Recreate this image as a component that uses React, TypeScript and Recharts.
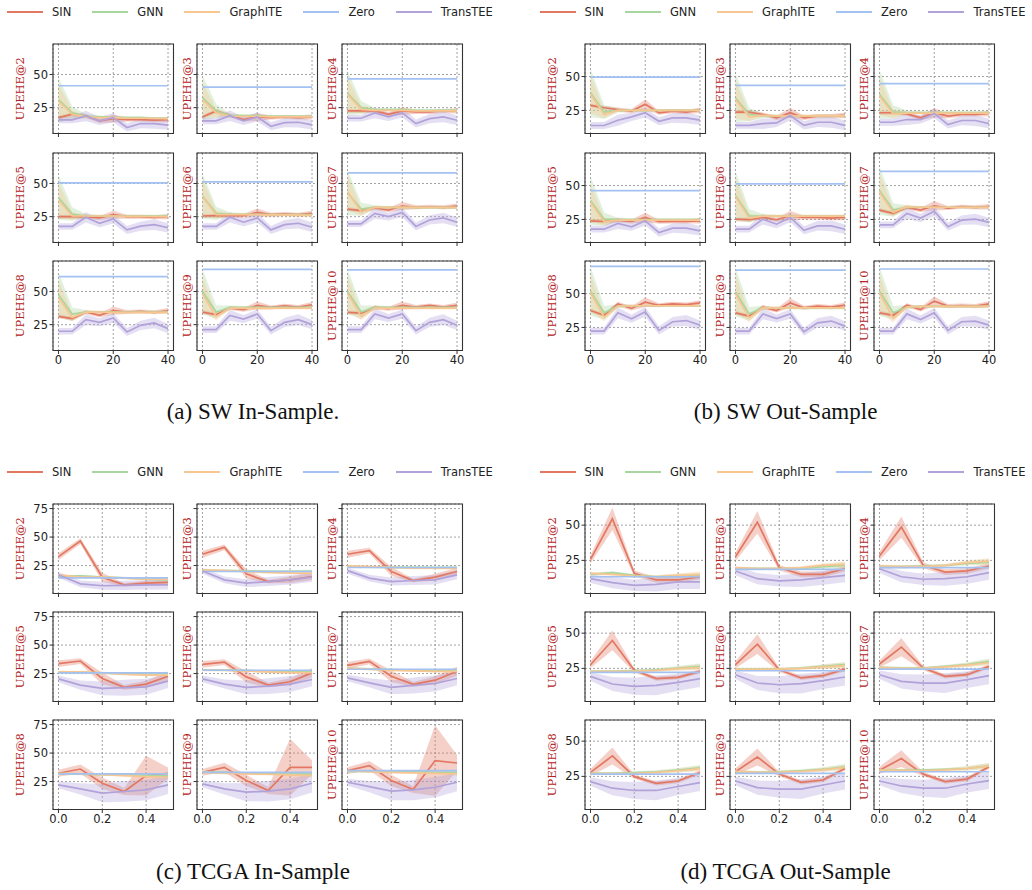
import React from "react";
import {
  ComposedChart,
  Line,
  Area,
  XAxis,
  YAxis,
  CartesianGrid,
  ReferenceArea,
  Legend,
} from "recharts";

// x grids
const SW_X = [0, 5, 10, 15, 20, 25, 30, 35, 40];
const TCGA_X = [0, 0.1, 0.2, 0.3, 0.4, 0.5];

const METRICS = [
  "UPEHE@2", "UPEHE@3", "UPEHE@4",
  "UPEHE@5", "UPEHE@6", "UPEHE@7",
  "UPEHE@8", "UPEHE@9", "UPEHE@10",
];
const SERIES = ["SIN", "GNN", "GraphITE", "Zero", "TransTEE"];

const COLORS: Record<string, string> = {
  SIN: "#e27862",
  GNN: "#a9d69f",
  GraphITE: "#f7c691",
  Zero: "#a3c2f2",
  TransTEE: "#b1a2d9",
};

// ---------- (a) SW In-Sample ----------
const swInSin = [
  [17.5, 20, 18.75, 15, 16.75, 16, 16, 15.5, 16],
  [18, 22.5, 19, 16, 18, 17.5, 18, 17.5, 18],
  [22.5, 22.5, 22.5, 20, 22.5, 21.75, 21.75, 22.5, 22.5],
  [25, 25, 25, 24, 26.5, 25, 25, 24.5, 25],
  [25.5, 25.7, 25.7, 25.7, 28.2, 26.5, 27, 26.5, 27.5],
  [30.7, 29.5, 31.5, 30, 33, 32, 32.4, 32, 33],
  [31.25, 29.5, 34.5, 32, 35.5, 34.5, 35, 34.3, 35.5],
  [34.5, 32.5, 37.5, 36.25, 39.5, 38, 39.25, 38.25, 40],
  [34.25, 33.75, 38, 37, 39.5, 38.25, 39.5, 38.25, 39.5],
];
const swInGnn = [
  [31, 21, 18.5, 18, 17.5, 17.5, 17.5, 17, 17],
  [32.5, 22.5, 19, 19, 19, 18.5, 18.5, 18.5, 18.5],
  [36, 25, 23.5, 23.5, 23.5, 23, 23, 23, 23],
  [39.4, 27, 25.5, 25.5, 25.5, 25.5, 25.5, 25.5, 25.5],
  [40.6, 27.5, 26.8, 26.8, 26.8, 26.5, 26.5, 26.5, 26.5],
  [43, 30.7, 32, 32, 32, 32, 32, 32, 32],
  [47.5, 33, 34.5, 34.5, 34.5, 34.5, 34.5, 34.5, 34.5],
  [50, 34.5, 38, 38, 38, 38, 38, 38, 38],
  [50, 34.5, 38, 38, 38, 38, 38, 38, 38],
];
const swInGraphite = [
  [30, 20, 18, 17.5, 17.5, 17, 17, 17, 16.5],
  [31, 21, 18.5, 18.5, 18.5, 18, 18, 18, 18],
  [35, 23.75, 23, 23, 23, 22.5, 22.5, 22.5, 22.5],
  [37.4, 25.5, 25.5, 25.5, 25.5, 25.2, 25.2, 25, 25],
  [40, 26.5, 26.5, 26.5, 26.5, 26.3, 26.3, 26.2, 26],
  [43.8, 28.7, 32, 32, 32, 32, 32, 32, 31.8],
  [45.5, 30.5, 34.5, 34.5, 34.3, 34.3, 34.3, 34.3, 34.3],
  [48, 31.25, 37.5, 37.5, 37.5, 37.5, 37.5, 37.5, 37.5],
  [48.75, 31.25, 37.5, 37.5, 37.5, 37.5, 37.5, 37.5, 37.5],
];
const swInZero = [41.5, 40.5, 46.75, 50.5, 51.2, 58, 61.25, 66.75, 66.25];
const swInTrans = [
  [15.75, 15.75, 18.75, 15, 17.5, 10, 13, 13, 11.75],
  [15, 15, 19, 15, 18, 11, 13.75, 14, 12],
  [17, 17, 21, 18, 21, 13, 16.75, 18, 15.5],
  [17.6, 17.6, 24.5, 20, 23.3, 15, 17.8, 19, 16.6],
  [17.6, 17.6, 24.5, 20.8, 24, 15, 19, 20, 17],
  [19.6, 19.6, 27.5, 25, 28.2, 17.6, 22.5, 24, 20.8],
  [20, 20, 28.75, 26.75, 30, 19.5, 24.5, 26.25, 22],
  [21.25, 21.25, 32, 29.25, 33, 20.5, 26.75, 28.75, 25],
  [21.25, 21.25, 33, 30, 33, 20.5, 26.75, 28.75, 24.5],
];
const swInSinErr = [1.5, 1.5, 1.5, 1.5, 3, 1.5, 1.5, 1.5, 2];
const swInGnnErr = [17, 5, 1.5, 1, 1, 1, 1, 1, 1];
const swInGraphiteErr = [13, 3, 1, 1, 1, 1, 1, 1, 1];
const swInTransErr = [2.5, 2.5, 4, 3, 3.5, 3, 3.5, 4, 3.5];

// ---------- (b) SW Out-Sample ----------
const swOutSin = [
  [28.7, 27, 25.7, 24.5, 29.5, 23.3, 24.5, 23.8, 25.2],
  [23.8, 23.8, 22, 19.5, 23.3, 19.5, 20.8, 20.8, 21.3],
  [23.3, 23.3, 22.5, 19.5, 23.3, 20.8, 22, 22, 22.8],
  [24, 23.5, 24.5, 23.5, 26.5, 23.3, 23.5, 23.5, 24],
  [25.2, 24.8, 26.5, 24.8, 27.7, 26.5, 26.5, 26, 26.5],
  [31.9, 29.5, 33.9, 31.9, 35.1, 33.4, 34.4, 33.9, 34.4],
  [37.5, 34, 42.4, 39, 43.6, 41.4, 42.4, 41.9, 43.1],
  [35.8, 33.3, 40, 37.5, 43.1, 39.5, 40.7, 40, 41.4],
  [35.8, 34, 41.4, 38.2, 44.4, 40.7, 41.2, 40.7, 42.4],
];
const swOutGnn = [
  [38, 23.8, 25, 25, 25, 25, 25, 25, 25],
  [34.4, 22, 21, 21, 21, 21, 21, 21, 21],
  [37, 23.8, 23.5, 23.5, 23.5, 23.5, 23.5, 23.5, 23.5],
  [38.9, 25.2, 24.8, 24.8, 24.8, 24.8, 24.8, 24.8, 24.8],
  [42.6, 27.7, 27.5, 27.5, 27.5, 27.5, 27.5, 27.5, 27.5],
  [46.3, 31.9, 33.9, 34, 34, 34, 34, 34, 34],
  [51.7, 35.8, 40.7, 41, 41, 41, 41, 41, 41],
  [51.2, 35, 39.5, 39.5, 39.5, 39.5, 39.5, 39.5, 39.5],
  [51.7, 35.8, 40, 40.5, 40.5, 40.5, 40.5, 40.5, 40.5],
];
const swOutGraphite = [
  [37, 22, 25, 25, 25, 25, 25, 25, 25],
  [33, 20.3, 21.3, 21, 21, 21, 21, 21, 21],
  [35.6, 22.5, 23, 23, 23, 23, 23, 23, 23],
  [37.6, 23.3, 24.5, 24.5, 24.5, 24.5, 24.5, 24.5, 24.5],
  [41.8, 26, 27.5, 27.5, 27.5, 27.5, 27.5, 27.5, 27.5],
  [45, 30.2, 34.4, 34, 34, 34, 34, 34, 34],
  [50.5, 32.6, 40.7, 41, 41, 41, 41, 41, 41],
  [49.8, 32.1, 39.5, 39.5, 39.5, 39.5, 39.5, 39.5, 39.5],
  [50.5, 31.6, 40, 40.5, 40.5, 40.5, 40.5, 40.5, 40.5],
];
const swOutZero = [49.5, 43.5, 44.8, 46.3, 51.2, 60.4, 70, 67.2, 68.1];
const swOutTrans = [
  [13.9, 13.9, 17.8, 20.3, 23.3, 17, 19.5, 19.5, 17.8],
  [14, 14, 15.3, 15.8, 21.3, 14, 16.3, 16.3, 14],
  [16.3, 16.3, 18.3, 18.3, 22.8, 14.6, 17.6, 17.6, 15.3],
  [17.8, 17.8, 22, 19.6, 24, 15.3, 18.6, 18.6, 16.6],
  [17.8, 17.8, 25.2, 21.5, 26.5, 17, 20.3, 20.3, 17.8],
  [21, 21, 29.5, 26, 31, 19.6, 24.5, 25.2, 22.8],
  [22.3, 22.3, 35.8, 31.4, 36.5, 22.8, 29.2, 30.1, 26.7],
  [22.3, 22.3, 35, 31.6, 35, 21.8, 28.4, 29.7, 26],
  [22.3, 22.3, 35, 30.9, 35.8, 22.8, 29.2, 29.7, 26.7],
];
const swOutSinErr = [1.5, 1.5, 1.5, 1.5, 3.5, 1.5, 1.5, 1.5, 2];
const swOutGnnErr = [18, 5, 1.5, 1, 1, 1, 1, 1, 1];
const swOutGraphiteErr = [14, 3, 1, 1, 1, 1, 1, 1, 1];
const swOutTransErr = [2.5, 2.5, 4, 3, 3.5, 3, 3.5, 4, 3.5];

// ---------- (c) TCGA In-Sample ----------
const tcgaInSin = [
  [32.8, 46.5, 14.8, 8.1, 9.6, 10.2],
  [34.9, 41, 17.7, 11, 12.5, 15.4],
  [34.9, 38.1, 19.8, 11.9, 14.8, 19.8],
  [33.7, 36, 20.7, 12.9, 15.8, 22.7],
  [33.1, 35.1, 22.1, 14.9, 17.8, 25.6],
  [32.2, 35.7, 22.7, 15.5, 19.2, 27],
  [32.3, 36, 23.5, 16.3, 30.2, 32.3],
  [33.1, 37.5, 25.9, 17.2, 37.5, 37.5],
  [34.6, 39, 25.9, 18, 43.3, 41.3],
];
const tcgaInGnn = [
  [15.4, 16, 14.8, 14.2, 13, 12.5],
  [20.6, 20.6, 20.3, 20, 20, 20],
  [23.8, 23.6, 23.5, 23.5, 23.3, 23.3],
  [26.3, 26, 25.5, 25, 25, 25],
  [28.2, 28, 27.5, 27, 27, 27],
  [29.5, 29, 28.5, 28, 28, 28],
  [32, 31.5, 31, 31, 30.5, 30],
  [33.5, 33, 32.5, 32, 32, 31.5],
  [34, 34, 33.5, 33.5, 33, 33],
];
const tcgaInGraphite = [
  [16.9, 14.8, 14.8, 14, 13, 13],
  [21.2, 20.6, 19.8, 18.9, 18.3, 18.3],
  [24.7, 24.1, 23.5, 22.7, 22.7, 22.7],
  [26.4, 26.4, 25.6, 24.4, 23.6, 23.6],
  [27.9, 27.9, 27.3, 26.4, 25.9, 25.9],
  [29.9, 28.8, 27.9, 27.3, 27, 27],
  [32.3, 31.7, 31.1, 30.2, 29.4, 28.8],
  [33.1, 32.3, 31.7, 31.4, 30.8, 30.2],
  [34.6, 33.7, 33.1, 32.7, 32.3, 31.7],
];
const tcgaInZero = [14.2, 19.8, 23.3, 25.6, 27.9, 28.8, 31.7, 33.1, 34.6];
const tcgaInTrans = [
  [16.9, 9, 7.3, 7.6, 8.1, 8.1],
  [20.3, 12.5, 9.6, 11, 12.5, 14.8],
  [20.6, 14, 11, 11.9, 12.5, 16.9],
  [20.4, 14.9, 12, 12.6, 13.4, 18.4],
  [20.4, 15.8, 12.9, 14, 15.8, 19.8],
  [21.2, 16.9, 12.9, 14.6, 16.3, 20.7],
  [22.1, 18.6, 14.8, 16.3, 17.7, 22.1],
  [23, 18.6, 15.7, 16.6, 18.6, 23.5],
  [24.4, 20.6, 16.6, 17.7, 20, 24.4],
];
const tcgaInSinErr = [
  [3, 2.5, 4, 1.5, 2, 2],
  [3, 2.5, 4, 1.5, 3, 3],
  [3, 2.5, 4, 1.5, 3, 3],
  [3, 2.5, 5, 2, 3, 4],
  [3, 2.5, 5, 2, 3, 4],
  [3, 2.5, 5, 2, 3.5, 4],
  [3, 4, 5, 3, 17.5, 5],
  [3, 4, 5, 3, 25, 6],
  [3, 4, 5, 3, 31, 7],
];
const tcgaInGnnErr = [1, 1, 1, 1, 1, 1.5];
const tcgaInGraphiteErr = [1, 1, 1, 1, 1, 1.5];
const tcgaInTransErr = [
  [2.5, 3, 3.5, 4, 4, 4],
  [2.5, 3, 3.5, 4, 4, 4],
  [2.5, 3, 3.5, 4, 4, 4],
  [3, 4, 6, 7, 7, 6],
  [3, 4, 6, 7, 7, 6],
  [3, 4, 6, 7, 7, 6],
  [3, 5, 8, 9, 9, 8],
  [3, 5, 8, 9, 9, 8],
  [3, 5, 8, 9, 9, 8],
];

// ---------- (d) TCGA Out-Sample ----------
const tcgaOutSin = [
  [25.7, 54.5, 15.8, 11.1, 11.1, 13.4],
  [27.6, 52.1, 19.8, 15.1, 15.1, 19.1],
  [28.1, 48.6, 21.5, 16.7, 17.5, 21],
  [27.6, 44.8, 23.6, 17.7, 18.6, 22.9],
  [27.6, 42.2, 24, 18.2, 19.8, 24.5],
  [28.1, 40.1, 25.2, 19.3, 20.5, 26.4],
  [27.8, 39.5, 24.8, 20.1, 21.7, 27.8],
  [28.3, 38.8, 26.6, 20.8, 22.4, 30.6],
  [29.4, 37.6, 26.6, 21.3, 23.1, 31.8],
];
const tcgaOutGnn = [
  [15.1, 16.3, 14.4, 13.4, 13.9, 13.9],
  [19.1, 19.1, 19.1, 19.1, 20.5, 21.5],
  [20.5, 20.5, 21, 21.5, 22.9, 23.8],
  [22.9, 22.9, 23.3, 24, 25.2, 26.4],
  [24.5, 24.5, 24.5, 25.2, 26.4, 27.6],
  [25.7, 25.2, 25.2, 26.4, 27.6, 30],
  [27.1, 27.1, 27.6, 28.3, 29.4, 31.1],
  [28.3, 27.8, 28.3, 29, 29.9, 31.8],
  [29.4, 29.4, 29.4, 29.9, 30.6, 32.5],
];
const tcgaOutGraphite = [
  [15.8, 15.1, 13.9, 13.4, 14.4, 15.1],
  [19.8, 19.1, 19.1, 19.8, 21.5, 22.2],
  [21, 20.5, 20.5, 21.5, 23.4, 24.5],
  [22.9, 22.9, 22.9, 23.6, 24.8, 25.7],
  [24.3, 24.3, 24.5, 25, 26, 27],
  [25.5, 25, 25, 26, 27.3, 29],
  [27, 27, 27, 27.8, 29, 30.5],
  [28.5, 27.8, 28, 28.6, 29.6, 31.3],
  [29.4, 29.2, 29, 29.6, 30.6, 32.3],
];
const tcgaOutZero = [13.4, 18.6, 19.8, 22.2, 23.3, 24.5, 26.6, 27.1, 28.3];
const tcgaOutTrans = [
  [12, 9.2, 7.3, 8, 9.7, 9.7],
  [17.5, 12, 10.4, 11.1, 12.7, 14.4],
  [19.1, 13.4, 11.6, 12, 13.4, 16.3],
  [19.3, 13.9, 12.3, 13, 15.1, 17.7],
  [20.5, 14.6, 13.4, 14.2, 16.3, 18.9],
  [20.5, 15.8, 14.6, 14.6, 17, 19.8],
  [21.3, 16.6, 15, 15, 17.8, 20.6],
  [21.7, 17, 15.9, 15.9, 18.9, 21.7],
  [21.7, 18.2, 16.6, 16.6, 19.6, 22],
];
const tcgaOutSinErr = [
  [3, 8, 2, 2, 2, 2],
  [3, 8, 2, 2, 2, 2],
  [3, 7.5, 2, 2, 2, 2],
  [2.5, 7, 1.5, 1.5, 1.5, 1.5],
  [2.5, 7, 1.5, 1.5, 1.5, 1.5],
  [2.5, 6.5, 1.5, 1.5, 1.5, 1.5],
  [2.5, 6, 1.5, 1.5, 1.5, 1.5],
  [2.5, 6, 1.5, 1.5, 1.5, 1.5],
  [2.5, 6, 1.5, 1.5, 1.5, 1.5],
];
const tcgaOutGnnErr = [1, 1, 1, 1, 1.5, 2];
const tcgaOutGraphiteErr = [1, 1, 1, 1, 1.5, 2];
const tcgaOutTransErr = [
  [3, 4, 4, 5, 5, 5],
  [3, 4, 4, 5, 5, 5],
  [3, 4, 4, 5, 5, 5],
  [3, 5, 6, 7, 6, 6],
  [3, 5, 6, 7, 6, 6],
  [3, 5, 6, 7, 6, 6],
  [3, 5, 6, 7, 6, 6],
  [3, 5, 6, 7, 6, 6],
  [3, 5, 6, 7, 6, 6],
];

type Band = number[] | number[][];
interface Panel {
  x: number[];
  sin: number[][];
  gnn: number[][];
  graphite: number[][];
  zero: number[];
  trans: number[][];
  sinErr: Band;
  gnnErr: Band;
  graphiteErr: Band;
  transErr: Band;
  xDomain: [number, number];
  xTicks: number[];
  yDomain: [number, number];
  yTicks: number[];
  ox: number;
  oy: number;
  caption: string;
  fmt: (v: number) => string;
}

const PANELS: Panel[] = [
  {
    x: SW_X, sin: swInSin, gnn: swInGnn, graphite: swInGraphite, zero: swInZero, trans: swInTrans,
    sinErr: swInSinErr, gnnErr: swInGnnErr, graphiteErr: swInGraphiteErr, transErr: swInTransErr,
    xDomain: [-2, 42], xTicks: [0, 20, 40], yDomain: [5.5, 73], yTicks: [25, 50],
    ox: 0, oy: 0, caption: "(a) SW In-Sample.", fmt: (v) => String(v),
  },
  {
    x: SW_X, sin: swOutSin, gnn: swOutGnn, graphite: swOutGraphite, zero: swOutZero, trans: swOutTrans,
    sinErr: swOutSinErr, gnnErr: swOutGnnErr, graphiteErr: swOutGraphiteErr, transErr: swOutTransErr,
    xDomain: [-2, 42], xTicks: [0, 20, 40], yDomain: [8, 74], yTicks: [25, 50],
    ox: 532.6, oy: 0, caption: "(b) SW Out-Sample", fmt: (v) => String(v),
  },
  {
    x: TCGA_X, sin: tcgaInSin, gnn: tcgaInGnn, graphite: tcgaInGraphite, zero: tcgaInZero, trans: tcgaInTrans,
    sinErr: tcgaInSinErr, gnnErr: tcgaInGnnErr, graphiteErr: tcgaInGraphiteErr, transErr: tcgaInTransErr,
    xDomain: [-0.025, 0.525], xTicks: [0, 0.2, 0.4], yDomain: [0.5, 79], yTicks: [25, 50, 75],
    ox: 0, oy: 459.5, caption: "(c) TCGA In-Sample", fmt: (v) => v.toFixed(1),
  },
  {
    x: TCGA_X, sin: tcgaOutSin, gnn: tcgaOutGnn, graphite: tcgaOutGraphite, zero: tcgaOutZero, trans: tcgaOutTrans,
    sinErr: tcgaOutSinErr, gnnErr: tcgaOutGnnErr, graphiteErr: tcgaOutGraphiteErr, transErr: tcgaOutTransErr,
    xDomain: [-0.025, 0.525], xTicks: [0, 0.2, 0.4], yDomain: [1.5, 65], yTicks: [25, 50],
    ox: 532.6, oy: 459.5, caption: "(d) TCGA Out-Sample", fmt: (v) => v.toFixed(1),
  },
];

// subplot geometry inside a panel
const PLOT_LEFT = [52.7, 197.2, 341.7];
const PLOT_TOP = [44, 152.5, 260.5];
const PW = 120.5;
const PH = 89.5;
const MT = 4;
const MR = 4;

const TICK_STYLE = { fontSize: 11.5, fill: "#222", fontFamily: "DejaVu Sans" };

const pick = (b: Band, i: number): number[] =>
  Array.isArray(b[0]) ? (b as number[][])[i] : (b as number[]);

function buildRows(p: Panel, i: number) {
  const se = pick(p.sinErr, i);
  const ge = pick(p.gnnErr, i);
  const ie = pick(p.graphiteErr, i);
  const te = pick(p.transErr, i);
  return p.x.map((x, j) => {
    const s = p.sin[i][j];
    const g = p.gnn[i][j];
    const gi = p.graphite[i][j];
    const t = p.trans[i][j];
    return {
      x,
      SIN: s,
      GNN: g,
      GraphITE: gi,
      Zero: p.zero[i],
      TransTEE: t,
      sinBand: [s - se[j], s + se[j]],
      gnnBand: [g - ge[j], g + ge[j]],
      graphiteBand: [gi - ie[j], gi + ie[j]],
      transBand: [t - te[j], t + te[j]],
    };
  });
}

// only the five line series go in the legend, in plotting order
function LegendRow(props: any) {
  const items = (props.payload || [])
    .filter((it: any) => SERIES.includes(it.value))
    .sort((a: any, b: any) => SERIES.indexOf(a.value) - SERIES.indexOf(b.value));
  return (
    <div
      style={{
        display: "flex",
        alignItems: "center",
        fontFamily: "DejaVu Sans",
        fontSize: 11.5,
        color: "#222",
        whiteSpace: "nowrap",
      }}
    >
      {items.map((it: any) => (
        <div key={it.value} style={{ display: "flex", alignItems: "center", marginRight: 21 }}>
          <svg width={36} height={4}>
            <line x1={0} x2={36} y1={2} y2={2} stroke={it.color} strokeWidth={2} />
          </svg>
          <span style={{ marginLeft: 9 }}>{it.value}</span>
        </div>
      ))}
    </div>
  );
}

function Subplot({ p, i }: { p: Panel; i: number }) {
  const r = Math.floor(i / 3);
  const c = i % 3;
  const yw = c === 0 ? 50 : 20;
  const xh = r === 2 ? 20 : 6;
  const left = p.ox + PLOT_LEFT[c] - yw;
  const top = p.oy + PLOT_TOP[r] - MT;
  const rows = buildRows(p, i);

  return (
    <div style={{ position: "absolute", left, top }}>
      <ComposedChart
        width={yw + PW + MR}
        height={MT + PH + xh}
        data={rows}
        margin={{ top: MT, right: MR, bottom: 0, left: 0 }}
      >
        <CartesianGrid stroke="#8a8a8a" strokeDasharray="2 2" strokeWidth={0.8} />
        <XAxis
          type="number"
          dataKey="x"
          domain={p.xDomain}
          ticks={p.xTicks}
          interval={0}
          allowDataOverflow
          axisLine={false}
          tickLine={{ stroke: "#333" }}
          tickSize={3.5}
          tickMargin={1.5}
          height={xh}
          tick={TICK_STYLE}
          tickFormatter={(v: number) => (r === 2 ? p.fmt(v) : "")}
        />
        <YAxis
          type="number"
          domain={p.yDomain}
          ticks={p.yTicks}
          interval={0}
          allowDataOverflow
          axisLine={false}
          tickLine={{ stroke: "#333" }}
          tickSize={3.5}
          tickMargin={1.5}
          width={yw}
          tick={TICK_STYLE}
          tickFormatter={(v: number) => (c === 0 ? String(v) : "")}
          label={{
            value: METRICS[i],
            angle: -90,
            position: "center",
            dx: c === 0 ? -7.7 : 0,
            fill: "#b22222",
            fontSize: 11.5,
            fontFamily: "DejaVu Serif",
          }}
        />
        <Area dataKey="sinBand" type="linear" stroke="none" fill={COLORS.SIN} fillOpacity={0.35} legendType="none" isAnimationActive={false} />
        <Area dataKey="gnnBand" type="linear" stroke="none" fill={COLORS.GNN} fillOpacity={0.35} legendType="none" isAnimationActive={false} />
        <Area dataKey="graphiteBand" type="linear" stroke="none" fill={COLORS.GraphITE} fillOpacity={0.35} legendType="none" isAnimationActive={false} />
        <Area dataKey="transBand" type="linear" stroke="none" fill={COLORS.TransTEE} fillOpacity={0.35} legendType="none" isAnimationActive={false} />
        {SERIES.map((s) => (
          <Line
            key={s}
            dataKey={s}
            name={s}
            type="linear"
            stroke={COLORS[s]}
            strokeWidth={1.7}
            dot={false}
            activeDot={false}
            isAnimationActive={false}
          />
        ))}
        <ReferenceArea
          x1={p.xDomain[0]}
          x2={p.xDomain[1]}
          y1={p.yDomain[0]}
          y2={p.yDomain[1]}
          fill="none"
          stroke="#333"
          strokeWidth={1.1}
          ifOverflow="visible"
        />
        {i === 0 && (
          <Legend
            layout="horizontal"
            verticalAlign="middle"
            align="center"
            content={LegendRow}
            wrapperStyle={{ position: "absolute", left: 4.3, top: -35, width: 520, height: 14 }}
          />
        )}
      </ComposedChart>
    </div>
  );
}

export default function App() {
  return (
    <div
      style={{
        position: "absolute",
        left: 0,
        top: 0,
        width: 1032,
        height: 890,
        background: "#fff",
        overflow: "hidden",
      }}
    >
      {PANELS.map((p, pi) => (
        <React.Fragment key={pi}>
          {METRICS.map((_, i) => (
            <Subplot key={i} p={p} i={i} />
          ))}
          <div
            style={{
              position: "absolute",
              left: p.ox + 103,
              top: p.oy + 398,
              width: 300,
              textAlign: "center",
              fontFamily: "Liberation Serif",
              fontSize: 23,
              lineHeight: "28px",
              color: "#111",
            }}
          >
            {p.caption}
          </div>
        </React.Fragment>
      ))}
    </div>
  );
}
